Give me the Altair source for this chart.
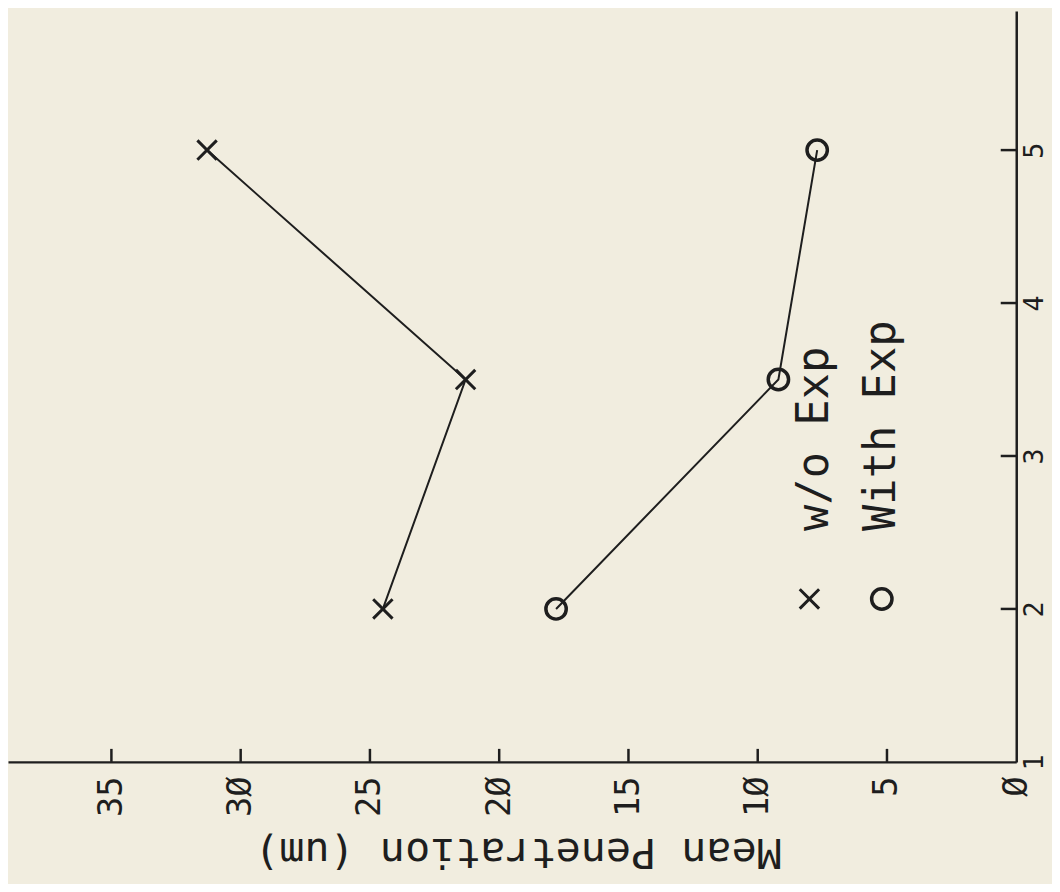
import altair as alt
import pandas as pd

# ---- data ----
runs = [2, 3.5, 5]
wo_exp = [24.5, 21.3, 31.3]      # "x" markers, w/o Exp
with_exp = [17.8, 9.2, 7.7]      # "o" markers, With Exp

value_ticks = [5, 10, 15, 20, 25, 30, 35]
run_ticks = [2, 3, 4, 5]

legend_labels = ["w/o Exp", "With Exp"]
legend_v = [7.8, 5.2]
legend_sym_v = [8.0, 5.2]
legend_c = 2.51
legend_sym_c = 2.065

FONT = "DejaVu Sans Mono"
INK = "#1e1e1e"
BG = "#f1eddf"

series = pd.DataFrame({
    "c": runs * 2,
    "v": wo_exp + with_exp,
    "s": ["w/o Exp"] * 3 + ["With Exp"] * 3,
})

xscale = alt.Scale(domain=[0, 39], reverse=True, nice=False, zero=False)
yscale = alt.Scale(domain=[1, 5.91], nice=False, zero=False)

xaxis = alt.Axis(
    values=[0, 5, 10, 15, 20, 25, 30, 35],
    labelExpr="replace(datum.label, '0', 'Ø')",
    labelAngle=270, labelAlign="right", labelBaseline="middle",
    labelFont=FONT, labelFontSize=34, labelColor=INK, labelPadding=14,
    ticks=False, grid=False, domainColor=INK, domainWidth=2.5,
    title="Mean Penetration (um)", titleFont=FONT, titleFontSize=42,
    titleFontWeight="normal", titleColor=INK, titleAngle=180,
    titleAlign="center", titleBaseline="middle", titleX=513, titleY=90,
    labelFlush=False, labelOverlap=False,
)
yaxis = alt.Axis(
    orient="right", values=[1, 2, 3, 4, 5], format="d",
    labelAngle=270, labelAlign="center", labelBaseline="top",
    labelFont=FONT, labelFontSize=27, labelColor=INK, labelPadding=5,
    ticks=False, grid=False, domainColor=INK, domainWidth=2.5, title=None,
    labelFlush=False, labelOverlap=False,
)

X = alt.X("v:Q", scale=xscale, axis=xaxis)
Y = alt.Y("c:Q", scale=yscale, axis=yaxis)

lines = alt.Chart(series).mark_line(color=INK, strokeWidth=2).encode(
    x=X, y=Y, detail="s:N", order="c:Q"
)

xmark = "M-1,-1L1,1M1,-1L-1,1"
pts_x = alt.Chart(series[series.s == "w/o Exp"]).mark_point(
    shape=xmark, filled=False, stroke=INK, strokeWidth=3, size=380, opacity=1
).encode(x=X, y=Y)
pts_o = alt.Chart(series[series.s == "With Exp"]).mark_point(
    shape="circle", filled=False, stroke=INK, strokeWidth=3.5, size=420, opacity=1
).encode(x=X, y=Y)

# inward ticks on both axes
vt = pd.DataFrame({"v": value_ticks, "c": [1] * 7, "c2": [1.085] * 7})
vticks = alt.Chart(vt).mark_rule(color=INK, strokeWidth=2.5).encode(
    x=X, y=Y, y2="c2:Q"
)
ct = pd.DataFrame({"c": run_ticks, "v": [0] * 4, "v2": [0.6] * 4})
cticks = alt.Chart(ct).mark_rule(color=INK, strokeWidth=2.5).encode(
    y=Y, x=X, x2="v2:Q"
)

# legend drawn inside the plot
leg_sym_x = alt.Chart(pd.DataFrame({"v": [legend_sym_v[0]], "c": [legend_sym_c]})).mark_point(
    shape=xmark, filled=False, stroke=INK, strokeWidth=3, size=380, opacity=1
).encode(x=X, y=Y)
leg_sym_o = alt.Chart(pd.DataFrame({"v": [legend_sym_v[1]], "c": [legend_sym_c]})).mark_point(
    shape="circle", filled=False, stroke=INK, strokeWidth=3.5, size=420, opacity=1
).encode(x=X, y=Y)
leg_text = alt.Chart(pd.DataFrame({"v": legend_v, "c": [legend_c] * 2, "t": legend_labels})).mark_text(
    angle=270, align="left", baseline="middle", font=FONT, fontSize=44, color=INK
).encode(x=X, y=Y, text="t:N")

chart = alt.layer(
    vticks, cticks, lines, pts_x, pts_o, leg_sym_x, leg_sym_o, leg_text
).properties(
    width=1015, height=756,
    autosize=alt.AutoSizeParams(type="none"),
    padding={"left": 0, "top": 0, "right": 36, "bottom": 120},
    background=BG,
).configure_view(stroke=None)

chart.save("out.html", embed_options={"renderer": "svg", "actions": False})
